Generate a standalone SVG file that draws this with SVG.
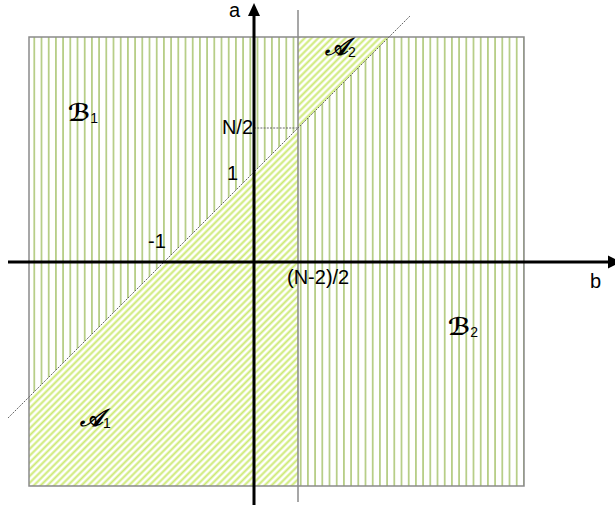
<svg xmlns="http://www.w3.org/2000/svg" width="615" height="508" viewBox="0 0 615 508">
<style>
.lbl{font-family:"Liberation Sans",Arial,sans-serif;font-size:20px;fill:#000}
.sub{font-family:"Liberation Sans",Arial,sans-serif;font-size:14px;font-style:normal;font-weight:normal;fill:#000}
.scr{font-family:"DejaVu Serif","DejaVu Sans","Noto Sans",serif;font-style:italic;font-weight:bold;font-size:24px;fill:#000}
.axis{stroke:#000;stroke-width:3;fill:none}
.gray{stroke:#8a8a8a;stroke-width:1.5;fill:none}
.dot{stroke:#666;stroke-width:1;stroke-dasharray:2,1.2;fill:none}
</style>
<defs>
<pattern id="vstripe" patternUnits="userSpaceOnUse" x="30.7" y="0" width="7.2" height="10">
<rect width="7.2" height="10" fill="#fff"/>
<line x1="3.6" y1="0" x2="3.6" y2="10" stroke="#9bbb59" stroke-width="1.3"/>
</pattern>
<pattern id="hatch" patternUnits="userSpaceOnUse" width="4.8" height="10" patternTransform="rotate(45)">
<rect width="4.8" height="10" fill="#fff"/>
<line x1="2.4" y1="0" x2="2.4" y2="10" stroke="#cdea74" stroke-width="2"/>
</pattern>
</defs>
<g id="regionB">
<rect x="29" y="37" width="495" height="449" fill="url(#vstripe)"/>
</g>
<g id="regionA1">
<polygon points="29,397 298,128 298,486 29,486" fill="url(#hatch)"/>
</g>
<g id="regionA2">
<polygon points="298,128 298,37 389,37" fill="url(#hatch)"/>
</g>
<g id="frame">
<rect x="29" y="37" width="495" height="449" class="gray"/>
<line x1="298" y1="10" x2="298" y2="502" class="gray"/>
</g>
<g id="connectors">
<line x1="8" y1="418" x2="410" y2="16" class="dot"/>
<line x1="254" y1="128" x2="298" y2="128" class="dot" stroke="#444"/>
<line x1="8" y1="262" x2="608" y2="262" class="axis"/>
<polygon points="608,255.5 621,262 608,268.5" fill="#000"/>
<line x1="254" y1="505" x2="254" y2="15" class="axis"/>
<polygon points="248,16 254,3 260,16" fill="#000"/>
</g>
<g id="labels">
<text class="lbl" x="229" y="17">a</text>
<text class="lbl" x="590" y="288">b</text>
<text class="lbl" x="253" y="134" text-anchor="end">N/2</text>
<text class="lbl" x="227" y="180">1</text>
<text class="lbl" x="148" y="248">-1</text>
<text class="lbl" x="287" y="284">(N-2)/2</text>
</g>
<g id="B1"><text class="scr" x="68" y="121">ℬ<tspan class="sub" dy="2">1</tspan></text></g>
<g id="B2"><text class="scr" x="448" y="335">ℬ<tspan class="sub" dy="2">2</tspan></text></g>
<g id="A1"><text class="scr" x="80" y="426">𝒜<tspan class="sub" dy="2">1</tspan></text></g>
<g id="A2"><text class="scr" x="325" y="55">𝒜<tspan class="sub" dy="2">2</tspan></text></g>
</svg>
